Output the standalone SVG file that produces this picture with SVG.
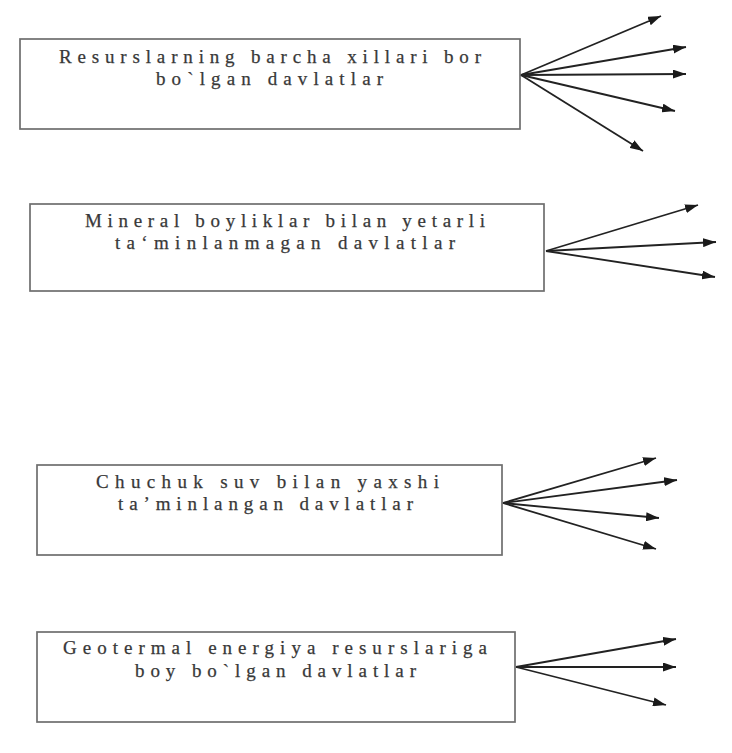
<svg xmlns="http://www.w3.org/2000/svg" width="732" height="753" viewBox="0 0 732 753">
<defs>
<style>
.box{fill:#fff;stroke:#6e6e6e;stroke-width:1.7}
.lbl{font-family:"Liberation Serif","Times New Roman",serif;font-size:19px;fill:#383838;stroke:#383838;stroke-width:0.25}
.arr{stroke:#222;stroke-width:1.8;fill:none;marker-end:url(#ah)}
</style>
<marker id="ah" markerUnits="userSpaceOnUse" markerWidth="13" markerHeight="9" refX="13" refY="4.5" orient="auto">
<path d="M0,0 L13,4.5 L0,9 z" fill="#1a1a1a"/>
</marker>
</defs>
<rect width="732" height="753" fill="#fff"/>
<g id="node1">
<rect class="box" x="20" y="39" width="500" height="90"/>
<text class="lbl" x="59" y="63" textLength="422" lengthAdjust="spacing">Resurslarning barcha xillari bor</text>
<text class="lbl" x="156" y="85" textLength="227" lengthAdjust="spacing">bo`lgan davlatlar</text>
</g>
<g id="node2">
<rect class="box" x="30" y="204" width="514" height="87"/>
<text class="lbl" x="85" y="227" textLength="400" lengthAdjust="spacing">Mineral boyliklar bilan yetarli</text>
<text class="lbl" x="115" y="249" textLength="340" lengthAdjust="spacing">ta‘minlanmagan davlatlar</text>
</g>
<g id="node3">
<rect class="box" x="37" y="465" width="465" height="90"/>
<text class="lbl" x="96" y="488" textLength="343" lengthAdjust="spacing">Chuchuk suv bilan yaxshi</text>
<text class="lbl" x="118" y="510" textLength="295" lengthAdjust="spacing">ta’minlangan davlatlar</text>
</g>
<g id="node4">
<rect class="box" x="37" y="632" width="478" height="90"/>
<text class="lbl" x="63" y="654" textLength="424" lengthAdjust="spacing">Geotermal energiya resurslariga</text>
<text class="lbl" x="135" y="677" textLength="281" lengthAdjust="spacing">boy bo`lgan davlatlar</text>
</g>
<g id="connectors">
<line class="arr" x1="521" y1="75" x2="661" y2="16"/>
<line class="arr" x1="521" y1="75" x2="686" y2="47"/>
<line class="arr" x1="521" y1="75" x2="686" y2="74"/>
<line class="arr" x1="521" y1="75" x2="675" y2="111"/>
<line class="arr" x1="521" y1="75" x2="643" y2="151"/>
<line class="arr" x1="546" y1="251" x2="698" y2="205"/>
<line class="arr" x1="546" y1="251" x2="716" y2="242"/>
<line class="arr" x1="546" y1="251" x2="715" y2="277"/>
<line class="arr" x1="503" y1="503" x2="656" y2="458"/>
<line class="arr" x1="503" y1="503" x2="677" y2="480"/>
<line class="arr" x1="503" y1="503" x2="659" y2="518"/>
<line class="arr" x1="503" y1="503" x2="656" y2="549"/>
<line class="arr" x1="516" y1="667" x2="676" y2="639"/>
<line class="arr" x1="516" y1="667" x2="676" y2="667"/>
<line class="arr" x1="516" y1="667" x2="666" y2="705"/>
</g>
</svg>
